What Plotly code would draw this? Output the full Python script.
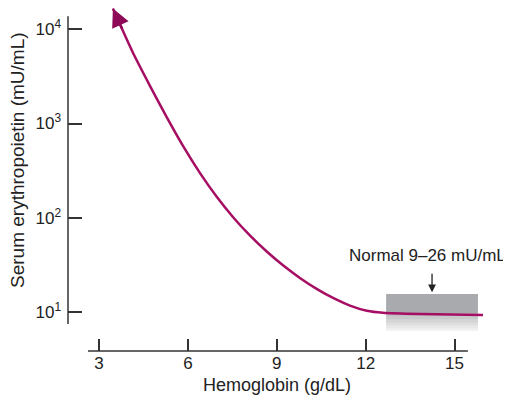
import math
import plotly.graph_objects as go

# Curve (drawn right to left so it ends at the arrow tip)
hemoglobin = [15.96, 13.83, 12.58, 12.04, 11.47, 10.90, 10.36, 9.78, 9.21, 8.67, 8.10,
              7.52, 6.98, 6.41, 5.83, 5.29, 4.72, 4.15, 3.47]
epo = [9.3, 9.5, 9.8, 10.3, 11.7, 14.1, 17.5, 23.0, 31.3, 43.6, 64.6,
       102, 166, 298, 582, 1161, 2512, 5600, 16600]

y_tick_vals = [10, 100, 1000, 10000]
y_tick_text = ["10<sup>1</sup>", "10<sup>2</sup>", "10<sup>3</sup>", "10<sup>4</sup>"]
x_tick_vals = [3, 6, 9, 12, 15]

normal_hb = [12.69, 15.79]       # grey box extent (g/dL)
normal_epo = [9.6, 15.5]         # grey box extent as drawn (mU/mL)
normal_label = "Normal 9–26 mU/mL"
normal_arrow_x = 14.24

FONT = "Liberation Sans, Arial, sans-serif"
CURVE = "#A50E62"
AXIS = "#333333"
TEXT = "#222222"

fig = go.Figure()
fig.add_trace(go.Scatter(
    x=hemoglobin, y=epo, mode="lines",
    line=dict(color=CURVE, width=2.5, shape="spline", smoothing=0.6),
    hoverinfo="skip", showlegend=False, cliponaxis=False,
))

shapes = []
# grey normal box with fading lower edge
shapes.append(dict(type="rect", xref="x", yref="y", x0=normal_hb[0], x1=normal_hb[1],
                   y0=normal_epo[0], y1=normal_epo[1], fillcolor="#A9AAAD",
                   line=dict(width=0), layer="below"))
fade_edges = [9.6, 8.9, 8.3, 7.7, 7.2, 6.7, 6.3]
for i in range(len(fade_edges) - 1):
    shapes.append(dict(type="rect", xref="x", yref="y", x0=normal_hb[0], x1=normal_hb[1],
                       y0=fade_edges[i + 1], y1=fade_edges[i],
                       fillcolor="#A9AAAD", opacity=0.75 - i * 0.12,
                       line=dict(width=0), layer="below"))
# detached axis lines
shapes.append(dict(type="line", xref="paper", yref="y", x0=0, x1=0, y0=7.46, y1=13740,
                   line=dict(color=AXIS, width=1.5)))
shapes.append(dict(type="line", xref="x", yref="paper", x0=2.63, x1=15.45, y0=0, y1=0,
                   line=dict(color=AXIS, width=1.5)))

annotations = [
    # arrow head on the curve
    dict(x=hemoglobin[-1], y=math.log10(epo[-1]), xref="x", yref="y", text="",
         showarrow=True, ax=10, ay=22, arrowhead=2, arrowsize=1.5, arrowwidth=2.4,
         arrowcolor="#8E0A58", standoff=0),
    # normal range label + arrow
    dict(x=normal_arrow_x, y=math.log10(normal_epo[1]) + 0.02, xref="x", yref="y", text="",
         showarrow=True, ax=0, ay=-20, arrowhead=2, arrowsize=1.2, arrowwidth=1.3,
         arrowcolor=TEXT, standoff=0),
    dict(x=14.10, y=1.604, xref="x", yref="y", text=normal_label, showarrow=False,
         xanchor="center", yanchor="middle",
         font=dict(family=FONT, size=17, color=TEXT)),
    # axis titles
    dict(x=-0.1171, y=0.557, xref="paper", yref="paper", text="Serum erythropoietin (mU/mL)",
         textangle=-90, showarrow=False, xanchor="center", yanchor="middle",
         font=dict(family=FONT, size=19, color=TEXT)),
    dict(x=0.4895, y=-0.099, xref="paper", yref="paper", text="Hemoglobin (g/dL)",
         showarrow=False, xanchor="center", yanchor="middle",
         font=dict(family=FONT, size=18, color=TEXT)),
]

# page body has an 8px margin, so the figure is 8px smaller on each axis
fig.update_layout(
    width=503, height=397,
    margin=dict(l=60, r=16, t=0, b=54, autoexpand=False),
    paper_bgcolor="white", plot_bgcolor="white",
    shapes=shapes, annotations=annotations,
    font=dict(family=FONT, size=17, color=TEXT),
    xaxis=dict(range=[1.954, 16.365], tickvals=x_tick_vals, ticks="inside", ticklen=12,
               tickwidth=1.5, tickcolor=AXIS, showline=False, showgrid=False, zeroline=False,
               automargin=False, ticklabelstandoff=0,
               tickfont=dict(family=FONT, size=17, color=TEXT)),
    yaxis=dict(type="log", range=[0.5864, 4.2260], tickvals=y_tick_vals, ticktext=y_tick_text,
               ticks="inside", ticklen=14, tickwidth=1.5, tickcolor=AXIS, showline=False,
               showgrid=False, zeroline=False, automargin=False, ticklabelstandoff=6,
               tickfont=dict(family=FONT, size=17, color=TEXT)),
)

fig.write_html("out.html")
